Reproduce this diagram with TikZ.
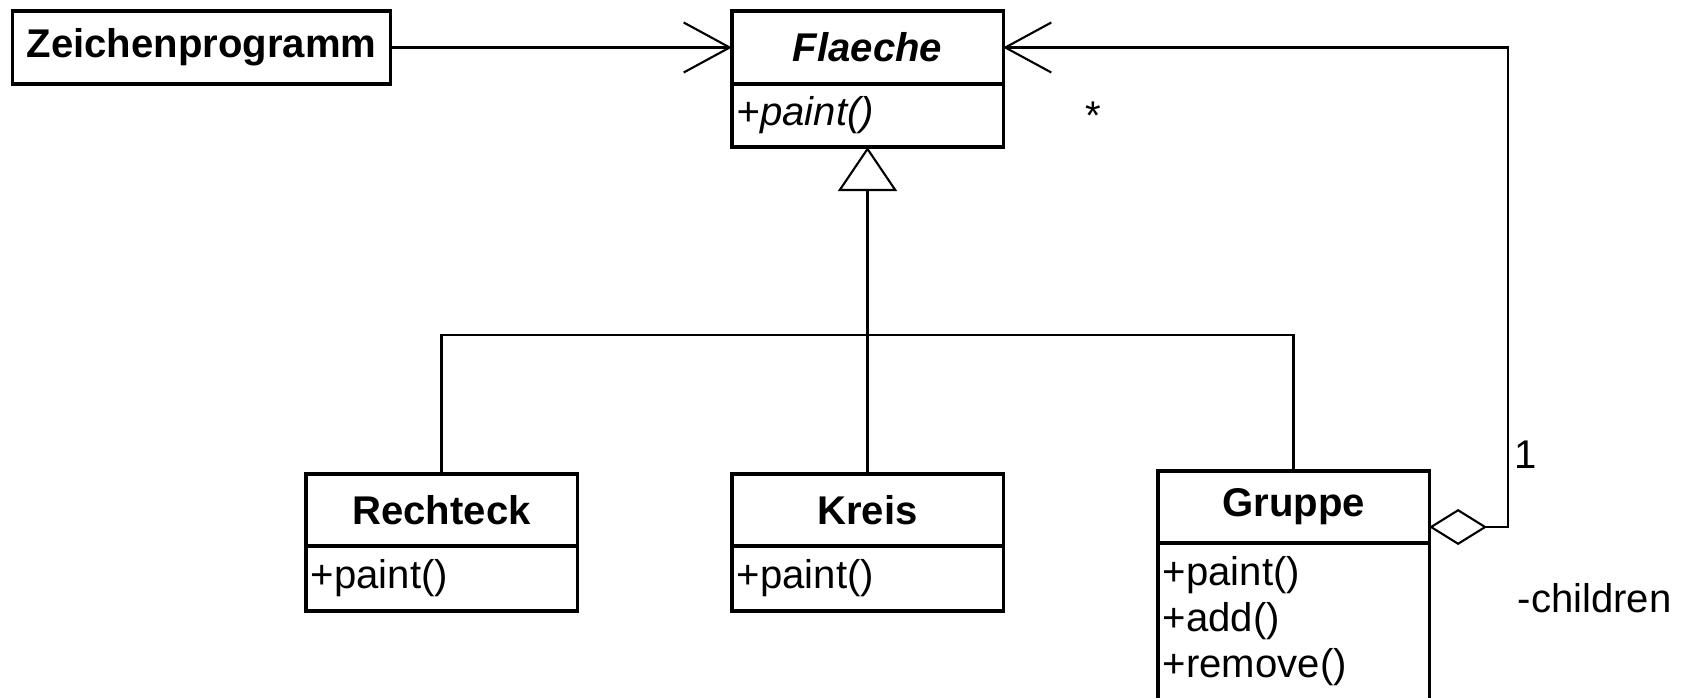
\documentclass[tikz,border=0pt]{standalone}
\usepackage{fontspec}
\setmainfont{Liberation Sans}
\usetikzlibrary{arrows.meta}

\begin{document}
\begin{tikzpicture}[x=0.01cm,y=-0.01cm,
    font=\fontsize{11.4}{13}\selectfont,
    classname/.style={draw,line width=0.9pt,outer sep=0pt,minimum width=2.71cm,minimum height=0.72cm,inner sep=0pt,font=\fontsize{11.4}{13}\selectfont\bfseries},
    members/.style={draw,line width=0.9pt,outer sep=0pt,minimum width=2.71cm,text width=2.61cm,inner xsep=0.05cm,inner ysep=0pt,align=left,anchor=north},
    link/.style={line width=0.6pt},
    barb/.style={-{Straight Barb[length=0.46cm,width=0.5cm]}}]
  \useasboundingbox (0,0) rectangle (1682,697);
  \draw
    (201.5,47.5) node[classname,minimum width=3.77cm,minimum height=0.73cm] (zp){Zeichenprogramm}
    (867.5,47.5) node[classname,minimum height=0.73cm] (fl){\itshape Flaeche}
    (fl.south) node[members,minimum height=0.63cm] (flm){\itshape +paint()}
    (441.5,510) node[classname] (rk){Rechteck}
    (rk.south) node[members,minimum height=0.65cm] (rkm){+paint()}
    (867.5,510) node[classname] (kr){Kreis}
    (kr.south) node[members,minimum height=0.65cm] (krm){+paint()}
    (1293.5,507) node[classname] (gr){Gruppe}
    (gr.south) node[members,minimum height=1.56cm] (grm){+paint()\\+add()\\+remove()};
  \coordinate (bus) at (867.5,335);
  \coordinate (hook) at (1508,47.5);
  \node (mult) at (1093,116) {*};
  \node (one) at (1526,455) {1};
  \node[anchor=west,inner sep=0pt] (role) at (1517,598) {-children};
  \begin{scope}[link]
    \draw[barb] (zp) -- (fl);
    \draw[{Diamond[open,length=0.58cm,width=0.36cm]}-{Straight Barb[length=0.46cm,width=0.5cm]}]
      ([yshift=-0.2cm]gr.east) -| (hook) -- (fl);
    \draw[-{Triangle[open,length=0.44cm,width=0.59cm]}] (kr) -- (flm);
    \draw (rk) |- (bus) -| (gr);
  \end{scope}
\end{tikzpicture}
\end{document}
